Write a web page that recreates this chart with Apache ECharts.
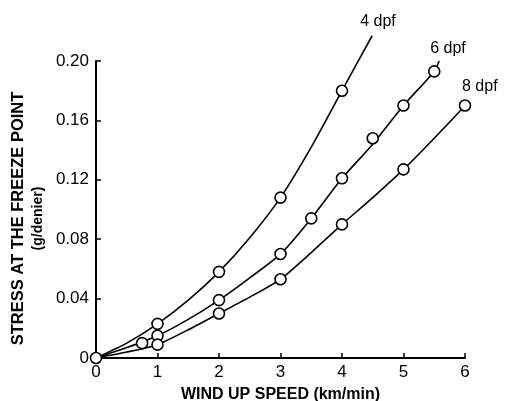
<!DOCTYPE html>
<html>
<head>
<meta charset="utf-8">
<script src="https://cdn.jsdelivr.net/npm/echarts@6/dist/echarts.min.js"></script>
<style>
  html, body { margin: 0; padding: 0; background: #fff; }
  #chart { width: 505px; height: 401px; }
</style>
</head>
<body>
<div id="chart"></div>
<script>
// measured points (wind up speed km/min, stress g/denier)
const pts4X = [0, 1, 2, 3, 4];
const pts4Y = [0, 0.023, 0.058, 0.108, 0.180];
const pts6X = [0.75, 1, 2, 3, 3.5, 4, 4.5, 5, 5.5];
const pts6Y = [0.010, 0.015, 0.039, 0.070, 0.094, 0.121, 0.148, 0.170, 0.193];
const pts8X = [1, 2, 3, 4, 5, 6];
const pts8Y = [0.009, 0.030, 0.053, 0.090, 0.127, 0.170];

// fitted curves
const curve4X = [0, 0.5, 1, 1.5, 2, 2.5, 3, 3.5, 4, 4.49];
const curve4Y = [0, 0.010, 0.023, 0.039, 0.058, 0.081, 0.108, 0.142, 0.180, 0.217];
const curve6X = [0, 0.5, 1, 1.5, 2, 2.5, 3, 3.5, 4, 4.5, 5, 5.5, 5.58];
const curve6Y = [0, 0.007, 0.015, 0.026, 0.039, 0.054, 0.070, 0.094, 0.121, 0.144, 0.170, 0.193, 0.200];
const curve8X = [0, 0.5, 1, 1.5, 2, 2.5, 3, 3.5, 4, 4.5, 5, 5.5, 6, 6.11];
const curve8Y = [0, 0.004, 0.009, 0.019, 0.030, 0.041, 0.053, 0.071, 0.090, 0.108, 0.127, 0.148, 0.170, 0.177];

const curveNames = ["4 dpf", "6 dpf", "8 dpf"];

const font = "'Liberation Sans', Arial, sans-serif";
const chart = echarts.init(document.getElementById("chart"));

function pairs(xs, ys) {
  return xs.map((x, i) => [x, ys[i]]);
}

function curveSeries(xs, ys, name, offset) {
  return {
    name: name,
    type: "line",
    smooth: 0.2,
    clip: false,
    showSymbol: false,
    symbol: "none",
    lineStyle: { color: "#000", width: 1.6 },
    endLabel: {
      show: true,
      formatter: name,
      offset: offset,
      color: "#000",
      fontSize: 16,
      fontFamily: font
    },
    data: pairs(xs, ys),
    z: 2
  };
}

function pointSeries(xs, ys) {
  return {
    type: "scatter",
    symbol: "circle",
    symbolSize: 11,
    clip: false,
    itemStyle: { color: "#fff", opacity: 1, borderColor: "#000", borderWidth: 1.6 },
    data: pairs(xs, ys),
    z: 3
  };
}

chart.setOption({
  animation: false,
  backgroundColor: "#fff",
  grid: { left: 96, right: 40, top: 61, bottom: 43, containLabel: false, outerBoundsMode: "none" },
  xAxis: {
    type: "value",
    min: 0,
    max: 6,
    interval: 1,
    name: "WIND UP SPEED (km/min)",
    nameLocation: "middle",
    nameGap: 29,
    nameTextStyle: { color: "#000", fontSize: 16, fontWeight: "bold", fontFamily: font },
    axisLine: { lineStyle: { color: "#000", width: 2 } },
    axisTick: { inside: true, length: 5, lineStyle: { color: "#000", width: 1.5 } },
    axisLabel: { color: "#000", fontSize: 17, fontFamily: font, margin: 6 },
    splitLine: { show: false }
  },
  yAxis: {
    type: "value",
    min: 0,
    max: 0.2,
    interval: 0.04,
    name: "{a|STRESS AT THE FREEZE POINT}\n{b|(g/denier)}",
    nameLocation: "middle",
    nameRotate: 90,
    nameGap: 48,
    nameTextStyle: {
      padding: [0, 18, 0, 0],
      rich: {
        a: { color: "#000", fontSize: 16.5, fontWeight: "bold", fontFamily: font, lineHeight: 20 },
        b: { color: "#000", fontSize: 14, fontWeight: "bold", fontFamily: font, lineHeight: 20 }
      }
    },
    axisLine: { show: true, lineStyle: { color: "#000", width: 2 } },
    axisTick: { inside: true, length: 5, lineStyle: { color: "#000", width: 1.5 } },
    axisLabel: {
      color: "#000",
      fontSize: 17,
      fontFamily: font,
      margin: 7,
      formatter: v => (v === 0 ? "0" : v.toFixed(2))
    },
    splitLine: { show: false }
  },
  series: [
    curveSeries(curve4X, curve4Y, curveNames[0], [-20, -14]),
    curveSeries(curve6X, curve6Y, curveNames[1], [-17, -12]),
    curveSeries(curve8X, curve8Y, curveNames[2], [-13, -16]),
    pointSeries(pts4X, pts4Y),
    pointSeries(pts6X, pts6Y),
    pointSeries(pts8X, pts8Y)
  ]
});
</script>
</body>
</html>
